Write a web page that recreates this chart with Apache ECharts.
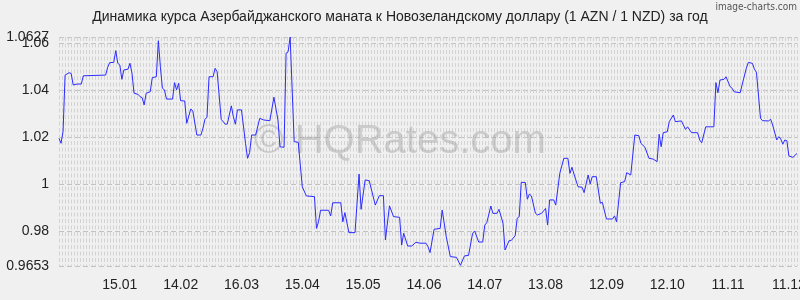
<!DOCTYPE html>
<html>
<head>
<meta charset="utf-8">
<script src="https://cdn.jsdelivr.net/npm/echarts@6/dist/echarts.min.js"></script>
<style>html,body{margin:0;padding:0;background:#f0f0f0;}#c{width:800px;height:300px;}</style>
</head>
<body>
<div id="c"></div>
<script>
const titleText = 'Динамика курса Азербайджанского маната к Новозеландскому доллару (1 AZN / 1 NZD) за год';
const tickLabels = ['15.01','14.02','16.03','15.04','15.05','14.06','14.07','13.08','12.09','12.10','11.11','11.12'];
const yMin = 0.9653;
const yMax = 1.0627;
const days = [0,1,2,3,5,6,7,9,11,12,23,24,25,27,28,29,30,31,32,34,35,36,37,39,40,41,42,43,45,46,48,49,50,51,52,53,56,57,58,59,60,62,63,65,66,68,70,71,72,73,74,76,77,78,80,82,83,85,86,87,88,90,92,93,94,95,97,99,101,104,106,108,109,111,112,113,114,116,118,120,122,126,127,128,129,133,134,135,139,140,141,143,146,148,149,151,153,156,158,160,161,163,165,168,169,170,172,174,176,178,181,182,183,185,188,189,191,193,196,198,200,202,204,205,207,209,210,211,213,214,216,217,219,220,222,223,225,226,227,228,230,231,232,233,235,236,238,240,241,242,244,245,247,249,251,252,253,254,256,258,259,261,262,263,265,267,268,270,273,274,275,277,279,280,282,284,286,287,289,291,293,295,296,297,298,300,301,303,304,307,309,310,312,315,316,317,319,323,324,325,326,328,329,331,332,333,336,337,339,340,342,343,344,346,347,350,351,352,354,355,356,357,358,359,360,362,364];
const rates = [1.0196,1.0175,1.0225,1.0465,1.0475,1.0472,1.0423,1.0427,1.0427,1.0462,1.0465,1.0498,1.0518,1.0519,1.0569,1.0515,1.0508,1.0447,1.0487,1.0490,1.0515,1.0473,1.0388,1.0383,1.0373,1.0369,1.0338,1.0388,1.0394,1.0454,1.0458,1.0611,1.0501,1.0409,1.0402,1.0363,1.0363,1.0433,1.0402,1.0430,1.0356,1.0355,1.0260,1.0321,1.0312,1.0210,1.0210,1.0239,1.0277,1.0286,1.0458,1.0458,1.0494,1.0479,1.0277,1.0256,1.0257,1.0334,1.0288,1.0256,1.0317,1.0317,1.0175,1.0111,1.0135,1.0210,1.0210,1.0281,1.0274,1.0271,1.0371,1.0274,1.0160,1.0158,1.0558,1.0564,1.0627,1.0182,1.0179,0.9990,0.9951,0.9948,0.9813,0.9841,0.9890,0.9890,0.9866,0.9922,0.9922,0.9841,0.9880,0.9795,0.9795,1.0044,0.9894,1.0019,1.0016,0.9912,0.9952,0.9952,0.9764,0.9909,0.9863,0.9860,0.9742,0.9792,0.9738,0.9738,0.9754,0.9750,0.9750,0.9735,0.9710,0.9809,0.9813,0.9891,0.9778,0.9693,0.9690,0.9656,0.9696,0.9698,0.9792,0.9802,0.9755,0.9755,0.9827,0.9837,0.9908,0.9877,0.9877,0.9894,0.9835,0.9721,0.9761,0.9761,0.9782,0.9856,0.9863,1.0009,1.0008,0.9937,0.9959,0.9951,0.9877,0.9870,0.9877,0.9898,0.9827,0.9934,0.9934,0.9912,1.0047,1.0111,1.0111,1.0047,1.0073,1.0044,0.9990,0.9988,0.9965,1.0040,1.0002,1.0033,1.0033,0.9920,0.9924,0.9853,0.9853,0.9866,0.9841,1.0007,1.0012,1.0050,1.0040,1.0210,1.0207,1.0175,1.0158,1.0111,1.0108,1.0097,1.0213,1.0160,1.0220,1.0224,1.0267,1.0295,1.0267,1.0270,1.0234,1.0245,1.0220,1.0220,1.0189,1.0177,1.0245,1.0245,1.0433,1.0390,1.0444,1.0447,1.0458,1.0416,1.0409,1.0394,1.0390,1.0426,1.0494,1.0519,1.0515,1.0490,1.0477,1.0281,1.0271,1.0270,1.0277,1.0253,1.0189,1.0203,1.0193,1.0171,1.0189,1.0186,1.0121,1.0115,1.0132];

const seriesData = days.map((d, i) => [d, rates[i]]);
const font = '"Liberation Sans", Arial, sans-serif';
const yLabelStyle = {margin: 10, fontSize: 14, color: '#222', fontFamily: font, hideOverlap: false};

const chart = echarts.init(document.getElementById('c'), null, {renderer: 'canvas'});
chart.setOption({
  backgroundColor: '#f0f0f0',
  animation: false,
  title: {
    text: titleText,
    left: 'center',
    top: 10,
    padding: 0,
    textStyle: {fontSize: 14, fontWeight: 'normal', color: '#222', fontFamily: font}
  },
  graphic: [
    {type: 'text', right: 3, top: 2, z: 10,
     style: {text: 'image-charts.com', fontSize: 10, fill: '#555', fontFamily: '"DejaVu Sans Condensed", "DejaVu Sans", sans-serif'}},
    {type: 'text', left: 'center', top: 122, z: 1, silent: true,
     style: {text: '© HQRates.com', fontSize: 40, fill: 'rgba(150,150,150,0.4)', fontFamily: font}}
  ],
  grid: {left: 59, right: 3, top: 37, bottom: 34, containLabel: false, outerBoundsMode: 'none'},
  xAxis: [
    {
      type: 'value', min: 0, max: 364, interval: 30,
      axisLine: {show: false}, axisTick: {show: false},
      splitLine: {show: false},
      axisLabel: {
        margin: 12, fontSize: 14, color: '#222', fontFamily: font, hideOverlap: false,
        formatter: v => (v > 0 && v % 30 === 0 && tickLabels[v / 30 - 1]) ? tickLabels[v / 30 - 1] : ''
      }
    },
    {
      type: 'value', min: 0, max: 738, interval: 3, position: 'bottom',
      axisLine: {show: false}, axisTick: {show: false}, axisLabel: {show: false},
      splitLine: {show: true, lineStyle: {color: '#d3d3d3', width: 1, type: [4, 2.5]}}
    }
  ],
  yAxis: [
    {
      type: 'value', min: yMin, max: yMax, position: 'left',
      axisLine: {show: false}, axisTick: {show: false},
      axisLabel: Object.assign({}, yLabelStyle, {showMinLabel: true, showMaxLabel: false}),
      splitLine: {show: true, lineStyle: {color: '#c2c2c2', width: 1, type: [5, 3]}}
    },
    {
      type: 'value', min: yMin, max: yMax, position: 'left',
      axisLine: {show: false}, axisTick: {show: false}, splitLine: {show: false},
      axisLabel: Object.assign({}, yLabelStyle, {showMinLabel: false, showMaxLabel: true,
        formatter: v => (Math.abs(v - yMax) < 1e-9 ? String(yMax) : '')})
    }
  ],
  series: [{
    type: 'line',
    xAxisIndex: 0,
    yAxisIndex: 0,
    data: seriesData,
    showSymbol: false,
    symbol: 'none',
    z: 5,
    lineStyle: {color: '#2b2bff', width: 1},
    itemStyle: {color: '#2b2bff'}
  }]
});
</script>
</body>
</html>
